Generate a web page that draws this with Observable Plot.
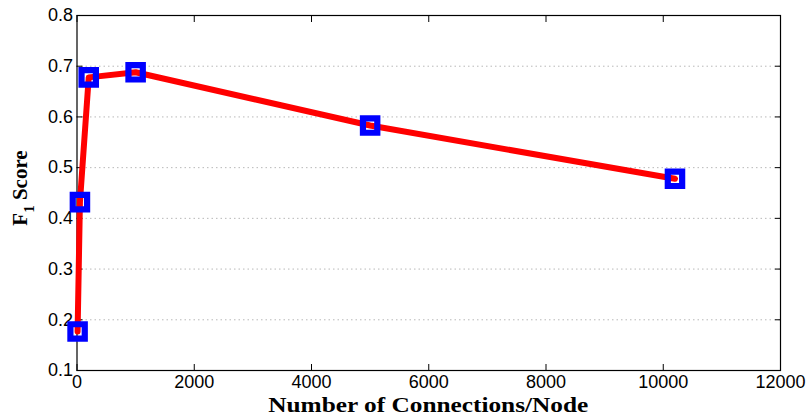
<!DOCTYPE html>
<html>
<head>
<meta charset="utf-8">
<script src="https://cdn.jsdelivr.net/npm/d3@7"></script>
<script src="https://cdn.jsdelivr.net/npm/@observablehq/plot@0.6"></script>
<style>
  html, body { margin: 0; padding: 0; background: #fff; }
  svg { display: block; }
</style>
</head>
<body>
<div id="chart"></div>
<script>
const connections = [10, 50, 200, 1000, 5000, 10200];
const f1Scores = [0.177, 0.432, 0.678, 0.688, 0.583, 0.478];
const xTicks = [0, 2000, 4000, 6000, 8000, 10000, 12000];
const yTicks = [0.1, 0.2, 0.3, 0.4, 0.5, 0.6, 0.7, 0.8];
const gridTicks = [0.2, 0.3, 0.4, 0.5, 0.6, 0.7];
const xLabel = "Number of Connections/Node";
const yLabelMain = "F";
const yLabelSub = "1";
const yLabelRest = " Score";

const data = connections.map((c, i) => ({x: c, y: f1Scores[i]}));

const W = 809, H = 416;
const mL = 76.5, mR = 29, mT = 15, mB = 46;

const chart = Plot.plot({
  width: W,
  height: H,
  marginLeft: mL,
  marginRight: mR,
  marginTop: mT,
  marginBottom: mB,
  style: {fontFamily: "'Liberation Sans', Arial, sans-serif", fontSize: "18px", background: "#fff", color: "#000", overflow: "visible"},
  x: {domain: [0, 12000]},
  y: {domain: [0.1, 0.8]},
  marks: [
    Plot.gridY(gridTicks, {stroke: "#b8b8b8", strokeOpacity: 1, strokeDasharray: "1.5,3"}),
    Plot.axisX(xTicks, {anchor: "bottom", tickSize: 0, tickPadding: 5, tickFormat: d => String(d), label: null, fontSize: 18}),
    Plot.axisX(xTicks, {anchor: "bottom", tickSize: -6, tickFormat: () => "", label: null, stroke: "#000"}),
    Plot.axisX(xTicks, {anchor: "top", tickSize: -6, tickFormat: () => "", label: null, stroke: "#000"}),
    Plot.axisY(yTicks, {anchor: "left", tickSize: 0, tickPadding: 4, tickFormat: d => d.toFixed(1), label: null, fontSize: 18}),
    Plot.axisY(yTicks, {anchor: "left", tickSize: -6, tickFormat: () => "", label: null, stroke: "#000"}),
    Plot.axisY(yTicks, {anchor: "right", tickSize: -6, tickFormat: () => "", label: null, stroke: "#000"}),
    Plot.frame({stroke: "#000", strokeWidth: 1.2}),
    Plot.line(data, {x: "x", y: "y", stroke: "#ff0000", strokeWidth: 6, strokeLinejoin: "round"}),
    Plot.dot(data, {x: "x", y: "y", symbol: "square", r: 8.1, stroke: "#0000ff", strokeWidth: 6.2, fill: "none"})
  ]
});

const svg = d3.select(chart);
svg.append("text")
  .attr("x", mL + (W - mL - mR) / 2)
  .attr("y", 412)
  .attr("text-anchor", "middle")
  .attr("font-family", "'Liberation Serif', 'Times New Roman', serif")
  .attr("font-weight", "bold")
  .attr("font-size", 22)
  .attr("textLength", 320)
  .attr("lengthAdjust", "spacingAndGlyphs")
  .attr("fill", "#000")
  .text(xLabel);

const yl = svg.append("text")
  .attr("transform", "translate(27,188) rotate(-90)")
  .attr("text-anchor", "middle")
  .attr("font-family", "'Liberation Serif', 'Times New Roman', serif")
  .attr("font-weight", "bold")
  .attr("font-size", 21)
  .attr("fill", "#000");
yl.append("tspan").text(yLabelMain);
yl.append("tspan").attr("font-size", 15).attr("dy", 7).text(yLabelSub);
yl.append("tspan").attr("dy", -7).text(yLabelRest);

document.getElementById("chart").appendChild(chart);
</script>
</body>
</html>
